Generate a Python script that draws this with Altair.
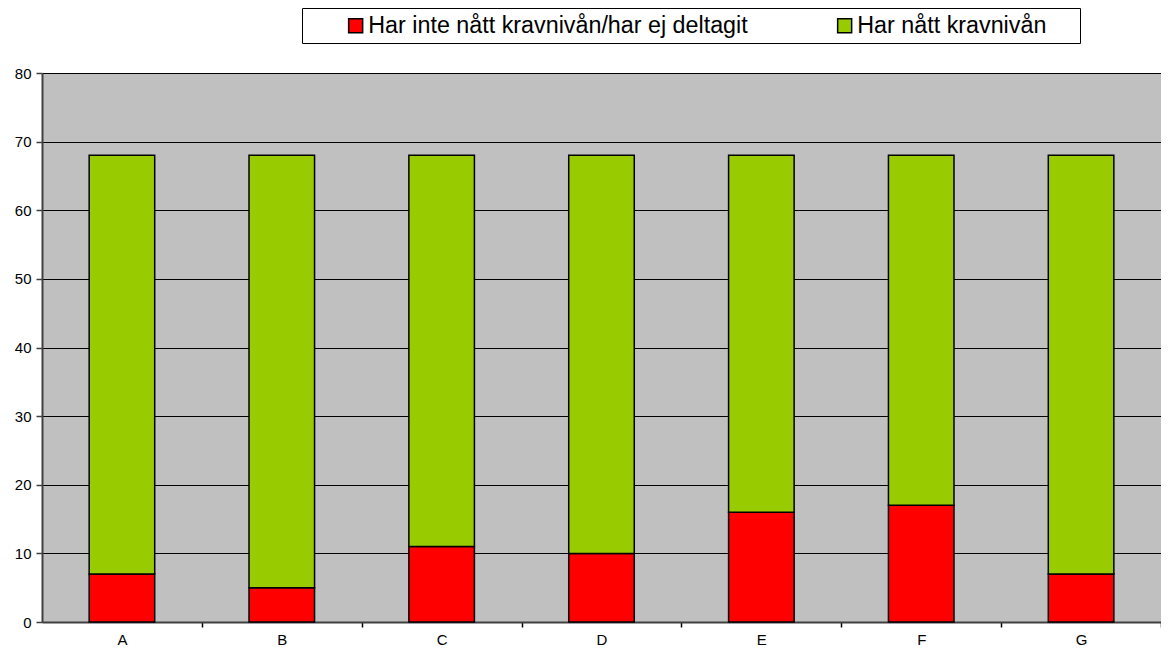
import altair as alt
import pandas as pd

categories = ["A", "B", "C", "D", "E", "F", "G"]
series_names = ["Har inte nått kravnivån/har ej deltagit", "Har nått kravnivån"]
not_reached = [7, 5, 11, 10, 16, 17, 7]
reached = [61, 63, 57, 58, 52, 51, 61]
colors = ["#FF0000", "#99CC00"]

rows = []
for c, a, b in zip(categories, not_reached, reached):
    rows.append({"cat": c, "series": series_names[0], "value": a, "ord": 0})
    rows.append({"cat": c, "series": series_names[1], "value": b, "ord": 1})
df = pd.DataFrame(rows)

W = 1119
H = 549
step = W / len(categories)
pi = 0.59
chart = alt.Chart(df).mark_bar(stroke="black", strokeWidth=1.5).encode(
    x=alt.X("cat:N", title=None, sort=categories,
            scale=alt.Scale(paddingInner=pi, paddingOuter=pi / 2),
            axis=alt.Axis(labelAngle=0, ticks=True, tickSize=5, tickOffset=step / 2,
                          labelOffset=-step / 2,
                          tickColor="black", tickWidth=1.5, labelPadding=5,
                          labelFontSize=15, labelFont="Liberation Sans", labelColor="black",
                          labelBaseline="top",
                          domainColor="#404040", domainWidth=2, grid=False)),
    y=alt.Y("value:Q", title=None, stack="zero",
            scale=alt.Scale(domain=[0, 80], nice=False),
            axis=alt.Axis(values=[0, 10, 20, 30, 40, 50, 60, 70, 80], tickSize=6,
                          tickColor="#404040", tickWidth=1.5, labelPadding=5,
                          labelFontSize=15, labelFont="Liberation Sans", labelColor="black",
                          domainColor="#404040", domainWidth=2,
                          grid=True, gridColor="black", gridWidth=1)),
    color=alt.Color("series:N", sort=series_names,
                    scale=alt.Scale(domain=series_names, range=colors),
                    legend=alt.Legend(title="\u00a0", titleOrient="right", titlePadding=28,
                                      titleFontSize=23, titleFont="Liberation Sans",
                                      orient="none", direction="horizontal",
                                      legendX=260, legendY=-65,
                                      fillColor="white", strokeColor="black",
                                      padding=6, symbolType="square", symbolSize=196,
                                      symbolStrokeColor="black", symbolStrokeWidth=1.5,
                                      symbolOffset=36, labelOffset=1,
                                      labelFontSize=23.3, labelFont="Liberation Sans",
                                      labelColor="black", labelLimit=600,
                                      columnPadding=49)),
    order=alt.Order("ord:Q", sort="ascending"),
).properties(
    width=W, height=H,
    padding={"left": 34, "top": 65, "right": 0, "bottom": 24},
    autosize=alt.AutoSizeParams(type="none"),
).configure_view(
    fill="#C0C0C0", stroke=None
)

chart.save("out.html", embed_options={"renderer": "svg", "actions": False})
